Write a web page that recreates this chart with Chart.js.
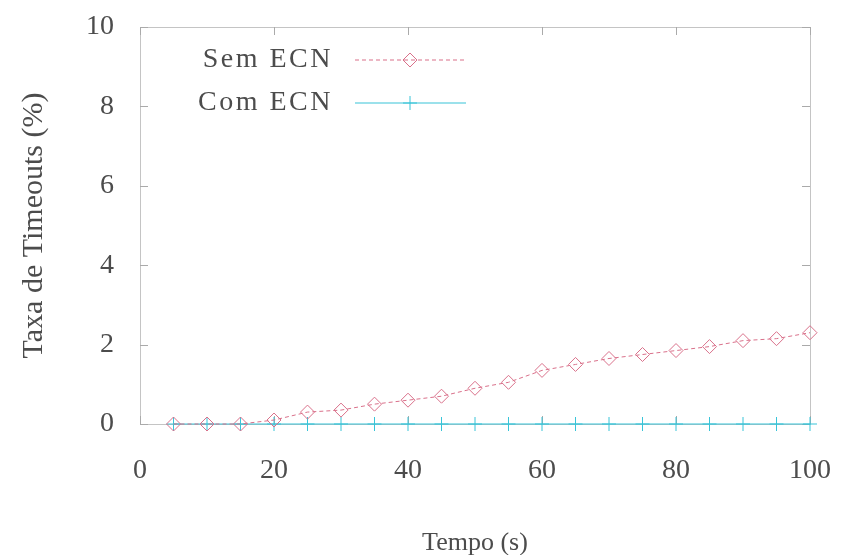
<!DOCTYPE html>
<html>
<head>
<meta charset="utf-8">
<script src="https://cdn.jsdelivr.net/npm/chart.js@4/dist/chart.umd.min.js"></script>
<style>
html,body{margin:0;padding:0;background:#fff;}
#wrap{width:841px;height:555px;position:relative;}
</style>
</head>
<body>
<div id="wrap"><canvas id="c" width="841" height="555"></canvas></div>
<script>
const times = [5,10,15,20,25,30,35,40,45,50,55,60,65,70,75,80,85,90,95,100];
const semECN = [0,0,0,0.1,0.3,0.35,0.5,0.6,0.7,0.9,1.05,1.35,1.5,1.65,1.75,1.85,1.95,2.1,2.15,2.3];
const comECN = [0,0,0,0,0,0,0,0,0,0,0,0,0,0,0,0,0,0,0,0];
const xTicks = [0,20,40,60,80,100];
const yTicks = [0,2,4,6,8,10];
const seriesNames = ['Sem ECN','Com ECN'];
const xTitle = 'Tempo (s)';
const yTitle = 'Taxa de Timeouts (%)';

const FONT = 'Liberation Serif, "Times New Roman", serif';
const TXT = '#4c4c4c';
const RED = '#d9708a';
const CYAN = '#38c4d8';

function pts(ys){ return times.map((t,i)=>({x:t,y:ys[i]})); }

const frame = {
  id:'frame',
  beforeDatasetsDraw(chart){
    const {ctx, chartArea:a, scales:{x,y}} = chart;
    ctx.save();
    ctx.strokeStyle = '#c4c4c4';
    ctx.lineWidth = 1;
    ctx.strokeRect(a.left+0.5, a.top+0.5, a.right-a.left, a.bottom-a.top);
    ctx.strokeStyle = '#aaaaaa';
    ctx.beginPath();
    const L = 8;
    xTicks.forEach(v=>{
      const px = Math.round(x.getPixelForValue(v))+0.5;
      ctx.moveTo(px,a.bottom); ctx.lineTo(px,a.bottom-L);
      ctx.moveTo(px,a.top); ctx.lineTo(px,a.top+L);
    });
    yTicks.forEach(v=>{
      const py = Math.round(y.getPixelForValue(v))+0.5;
      ctx.moveTo(a.left,py); ctx.lineTo(a.left+L,py);
      ctx.moveTo(a.right,py); ctx.lineTo(a.right-L,py);
    });
    ctx.stroke();
    ctx.restore();
  }
};

const legendPlug = {
  id:'legendPlug',
  afterDraw(chart){
    const {ctx} = chart;
    const rows = [60,103];
    chart.data.datasets.forEach((ds,i)=>{
      const yy = rows[i];
      ctx.save();
      ctx.font = '28px ' + FONT;
      try { ctx.letterSpacing = '2.5px'; } catch(e) {}
      ctx.fillStyle = TXT;
      ctx.textAlign = 'right';
      ctx.textBaseline = 'middle';
      ctx.fillText(ds.label, 333, yy);
      ctx.restore();
      ctx.save();
      ctx.strokeStyle = ds.borderColor;
      ctx.lineWidth = 1.2;
      ctx.setLineDash(ds.borderDash || []);
      ctx.beginPath();
      ctx.moveTo(355, yy); ctx.lineTo(466, yy);
      ctx.stroke();
      ctx.setLineDash([]);
      ctx.strokeStyle = ds.pointBorderColor;
      ctx.fillStyle = 'rgba(0,0,0,0)';
      ctx.lineWidth = 1;
      Chart.helpers.drawPoint(ctx, {
        pointStyle: ds.pointStyle, radius: ds.pointRadius, rotation:0,
        borderWidth: 1
      }, 410, yy);
      ctx.restore();
    });
  }
};

new Chart(document.getElementById('c'), {
  type:'line',
  data:{
    datasets:[
      {label:seriesNames[0], data:pts(semECN), borderColor:RED, backgroundColor:'rgba(0,0,0,0)',
       pointBorderColor:RED, pointBackgroundColor:'rgba(0,0,0,0)', borderWidth:1, borderDash:[4,3],
       pointStyle:'rectRot', pointRadius:7, pointBorderWidth:1, tension:0, clip:false},
      {label:seriesNames[1], data:pts(comECN), borderColor:CYAN, backgroundColor:'rgba(0,0,0,0)',
       pointBorderColor:CYAN, pointBackgroundColor:'rgba(0,0,0,0)', borderWidth:1.2,
       pointStyle:'cross', pointRadius:7, pointBorderWidth:1, tension:0, clip:false}
    ]
  },
  options:{
    responsive:false, animation:false, devicePixelRatio:1,
    layout:{padding:{left:0,right:31,top:27,bottom:0}},
    plugins:{legend:{display:false}, tooltip:{enabled:false}},
    scales:{
      x:{type:'linear', min:0, max:100,
         afterBuildTicks(s){ s.ticks = xTicks.map(v=>({value:v})); },
         afterFit(s){ s.height = 131; s.paddingLeft = 0; s.paddingRight = 0; },
         grid:{display:false, drawTicks:false},
         border:{display:false},
         ticks:{padding:30, color:TXT, font:{family:FONT, size:28}, maxRotation:0, autoSkip:false},
         title:{display:true, text:xTitle, color:TXT, font:{family:FONT, size:26}, padding:{top:0,bottom:-4}}
      },
      y:{type:'linear', min:0, max:10,
         afterBuildTicks(s){ s.ticks = yTicks.map(v=>({value:v})); },
         afterFit(s){ s.width = 140; s.paddingTop = 0; s.paddingBottom = 0; },
         grid:{display:false, drawTicks:false},
         border:{display:false},
         ticks:{padding:26, color:TXT, font:{family:FONT, size:28}, autoSkip:false},
         title:{display:true, text:yTitle, color:TXT, font:{family:FONT, size:30}, padding:{top:16,bottom:0}}
      }
    }
  },
  plugins:[frame, legendPlug]
});
</script>
</body>
</html>
